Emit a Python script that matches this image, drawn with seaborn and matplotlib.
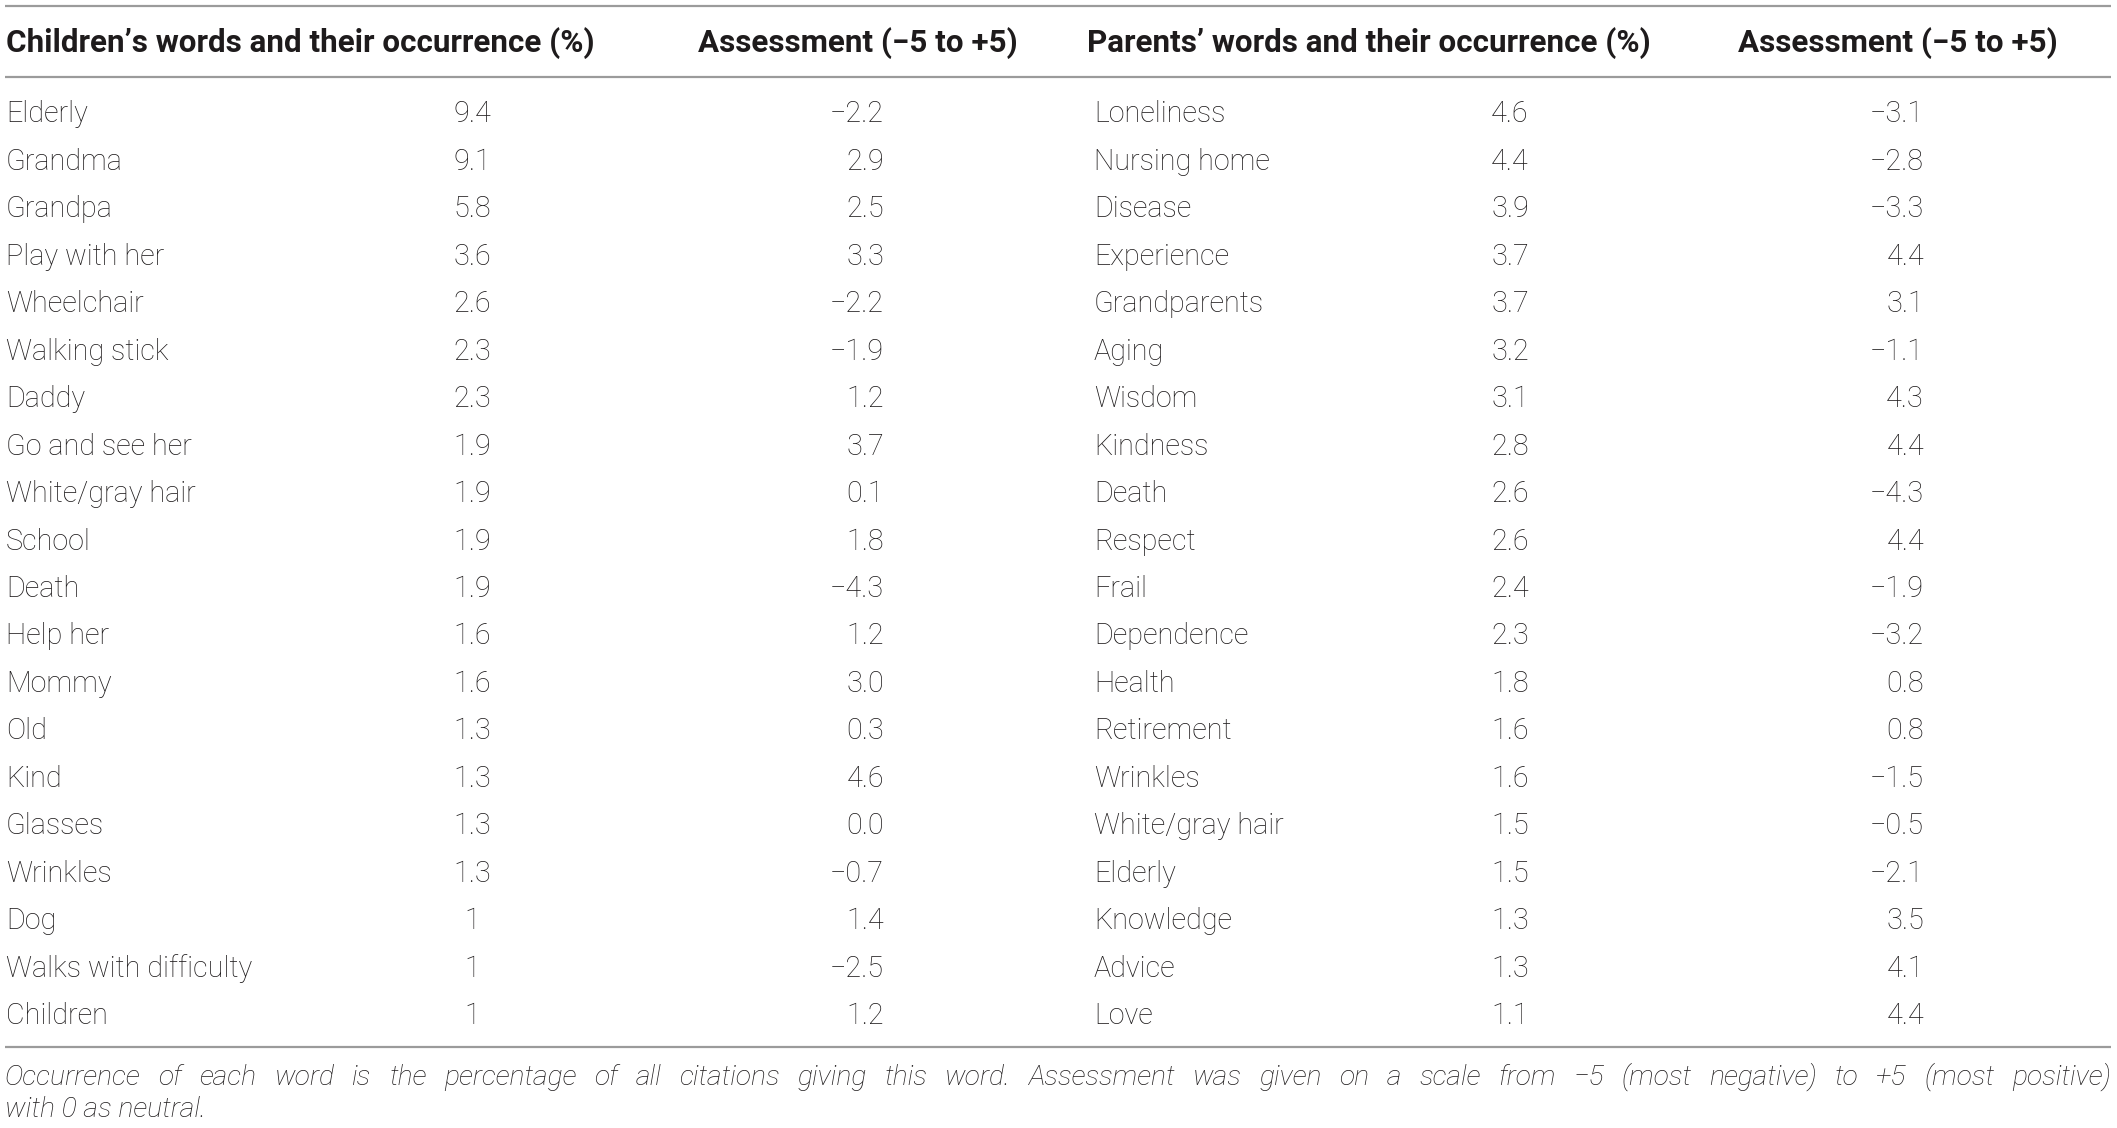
import matplotlib
matplotlib.use("Agg")
import matplotlib.pyplot as plt
from matplotlib import font_manager
from matplotlib.font_manager import FontProperties
from matplotlib.textpath import TextPath
import seaborn as sns

# ---------------- data ----------------
children_words = ["Elderly", "Grandma", "Grandpa", "Play with her", "Wheelchair",
                  "Walking stick", "Daddy", "Go and see her", "White/gray hair", "School",
                  "Death", "Help her", "Mommy", "Old", "Kind", "Glasses", "Wrinkles",
                  "Dog", "Walks with difficulty", "Children"]
children_occurrence = [9.4, 9.1, 5.8, 3.6, 2.6, 2.3, 2.3, 1.9, 1.9, 1.9,
                       1.9, 1.6, 1.6, 1.3, 1.3, 1.3, 1.3, 1, 1, 1]
children_assessment = [-2.2, 2.9, 2.5, 3.3, -2.2, -1.9, 1.2, 3.7, 0.1, 1.8,
                       -4.3, 1.2, 3.0, 0.3, 4.6, 0.0, -0.7, 1.4, -2.5, 1.2]

parents_words = ["Loneliness", "Nursing home", "Disease", "Experience", "Grandparents",
                 "Aging", "Wisdom", "Kindness", "Death", "Respect", "Frail", "Dependence",
                 "Health", "Retirement", "Wrinkles", "White/gray hair", "Elderly",
                 "Knowledge", "Advice", "Love"]
parents_occurrence = [4.6, 4.4, 3.9, 3.7, 3.7, 3.2, 3.1, 2.8, 2.6, 2.6,
                      2.4, 2.3, 1.8, 1.6, 1.6, 1.5, 1.5, 1.3, 1.3, 1.1]
parents_assessment = [-3.1, -2.8, -3.3, 4.4, 3.1, -1.1, 4.3, 4.4, -4.3, 4.4,
                      -1.9, -3.2, 0.8, 0.8, -1.5, -0.5, -2.1, 3.5, 4.1, 4.4]

headers = ["Children\u2019s words and their occurrence (%)", "Assessment (\u22125 to +5)",
           "Parents\u2019 words and their occurrence (%)", "Assessment (\u22125 to +5)"]
footnote_line1 = ("Occurrence of each word is the percentage of all citations giving this word. "
                  "Assessment was given on a scale from \u22125 (most negative) to +5 (most positive)")
footnote_line2 = "with 0 as neutral."

# ---------------- style ----------------
sns.set_theme(style="white")

available = {f.name for f in font_manager.fontManager.ttflist}
def pick(*names):
    for n in names:
        if n in available:
            return n
    return "DejaVu Sans"

body_font = pick("Roboto", "Liberation Sans", "Noto Sans")
head_font = pick("Liberation Sans Narrow", "Roboto", "Liberation Sans")
plt.rcParams["font.family"] = [body_font, "DejaVu Sans"]

W, H = 2117, 1128
fig = plt.figure(figsize=(W / 100, H / 100), dpi=100)
ax = fig.add_axes([0, 0, 1, 1])
ax.set_xlim(0, W)
ax.set_ylim(H, 0)
ax.axis("off")
fig.canvas.draw()
renderer = fig.canvas.get_renderer()

TXT = "#1e1b1c"
RULE = "#9b9b9b"

def text_width(s, size, family, **kw):
    t = ax.text(0, 0, s, fontsize=size, family=[family, "DejaVu Sans"], **kw)
    w = t.get_window_extent(renderer).width
    t.remove()
    return w

def cap_px(size, family, weight, style="normal"):
    fp = FontProperties(family=family, weight=weight, style=style, size=size)
    tp = TextPath((0, 0), "H", prop=fp)
    return tp.get_extents().height * 100 / 72

def fit(s, target_w, target_cap, family, weight, style="normal", wshare=0.5):
    sw = 20 * target_w / text_width(s, 20, family, fontweight=weight, fontstyle=style)
    sc = 20 * target_cap / cap_px(20, family, weight, style)
    return sw ** wshare * sc ** (1 - wshare)

body_size = fit("Walks with difficulty", 242, 20.7, body_font, "light")
head_size = fit(headers[0], 581, 23.0, head_font, "bold", wshare=0.75)
foot_size = fit(footnote_line2, 212, 19.0, body_font, "light", "italic")

body_kw = dict(fontweight="light", color=TXT, family=[body_font, "DejaVu Sans"], fontsize=body_size)
head_kw = dict(fontweight="bold", color=TXT, family=[head_font, "DejaVu Sans"], fontsize=head_size)
foot_kw = dict(fontweight="light", fontstyle="italic", color=TXT, family=[body_font, "DejaVu Sans"], fontsize=foot_size)

# ---------------- rules ----------------
x0, x1 = 5, 2111
ax.hlines([5.5, 76.7, 1047], x0, x1, colors=RULE, linewidth=1.6)

# ---------------- headers ----------------
hb = 52.3
ax.text(6, hb, headers[0], ha="left", va="baseline", **head_kw)
ax.text(698, hb, headers[1], ha="left", va="baseline", **head_kw)
ax.text(1087, hb, headers[2], ha="left", va="baseline", **head_kw)
ax.text(1738, hb, headers[3], ha="left", va="baseline", **head_kw)

# ---------------- rows ----------------
def fmt_occ(v):
    return f"{v:g}"

def fmt_ass(v):
    return f"{v:.1f}".replace("-", "\u2212")

row0, step = 122.4, 47.46
for i in range(len(children_words)):
    yb = row0 + i * step
    ax.text(6, yb, children_words[i], ha="left", va="baseline", **body_kw)
    ax.text(472, yb, fmt_occ(children_occurrence[i]), ha="center", va="baseline", **body_kw)
    ax.text(884, yb, fmt_ass(children_assessment[i]), ha="right", va="baseline", **body_kw)
for i in range(len(parents_words)):
    yb = row0 + i * step
    ax.text(1094, yb, parents_words[i], ha="left", va="baseline", **body_kw)
    ax.text(1510, yb, fmt_occ(parents_occurrence[i]), ha="center", va="baseline", **body_kw)
    ax.text(1924, yb, fmt_ass(parents_assessment[i]), ha="right", va="baseline", **body_kw)

# ---------------- justified footnote ----------------
words = footnote_line1.split(" ")
widths = [text_width(w, foot_size, body_font, fontweight="light", fontstyle="italic") for w in words]
gap = (x1 - x0 - sum(widths)) / (len(words) - 1)
x = x0
for w, wd in zip(words, widths):
    ax.text(x, 1085, w, ha="left", va="baseline", **foot_kw)
    x += wd + gap
ax.text(x0, 1116.7, footnote_line2, ha="left", va="baseline", **foot_kw)

fig.savefig("out.png", dpi=100, facecolor="white")
